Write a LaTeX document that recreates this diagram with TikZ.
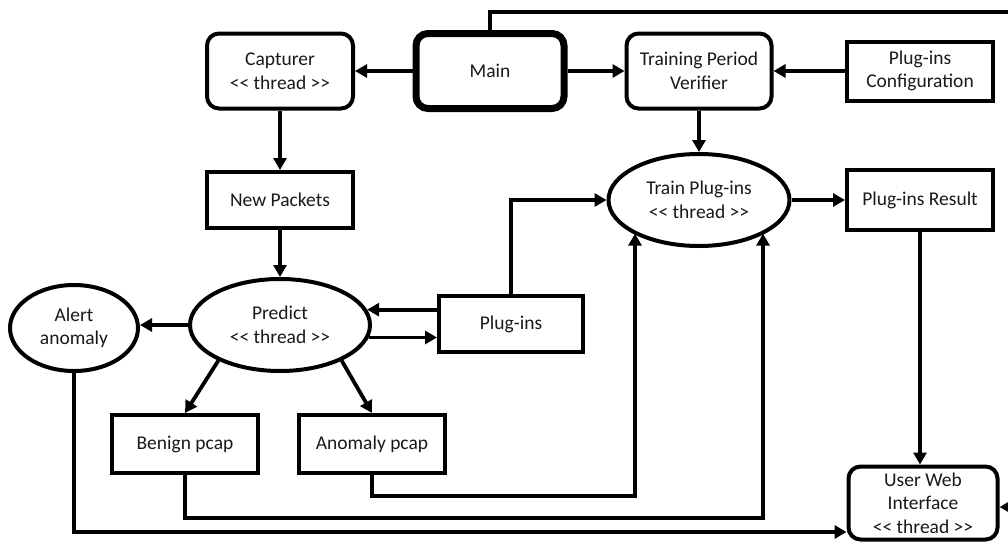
\documentclass[tikz,border=0pt]{standalone}
\usepackage{fontspec}
\setmainfont{Carlito}
\usetikzlibrary{arrows.meta,shapes.geometric}
\begin{document}
\begin{tikzpicture}[x=1pt,y=-1pt,
  every node/.style={font=\fontsize{19.5}{23.5}\selectfont, align=center, inner sep=0pt, text=black!90},
  sqbox/.style={draw, rectangle, line width=4pt},
  rbox/.style={draw, rectangle, rounded corners=12pt, line width=4pt},
  mainbox/.style={draw, rectangle, rounded corners=12pt, line width=7pt},
  oval/.style={draw, ellipse, line width=4pt},
  arr/.style={line width=3.8pt, -{Triangle[length=12pt,width=13pt]}},
  ln/.style={line width=3.8pt}]
\useasboundingbox (0,0) rectangle (1008,546);
\clip (0,0) rectangle (1008,546);
\fill[white] (0,0) rectangle (1008,546);
% nodes
\node[rbox, minimum width=146pt, minimum height=75pt] (cap) at (280,71) {Capturer\\<{}< thread >{}>};
\node[mainbox, minimum width=148pt, minimum height=75pt] (main) at (490,71) {Main};
\node[rbox, minimum width=145pt, minimum height=75pt] (tpv) at (699,71) {Training Period\\Verifier};
\node[sqbox, minimum width=146pt, minimum height=59pt] (pconf) at (920,71) {Plug-ins\\Configuration};
\node[sqbox, minimum width=146pt, minimum height=56pt] (np) at (280,200) {New Packets};
\node[oval, minimum width=181pt, minimum height=92pt] (train) at (699,200) {Train Plug-ins\\<{}< thread >{}>};
\node[sqbox, minimum width=146pt, minimum height=60pt] (pres) at (920,200) {Plug-ins Result};
\node[oval, minimum width=128pt, minimum height=86pt] (alert) at (74,328) {Alert\\anomaly};
\node[oval, minimum width=180pt, minimum height=92pt] (pred) at (280,325) {Predict\\<{}< thread >{}>};
\node[sqbox, minimum width=144pt, minimum height=56pt] (plug) at (511,324) {Plug-ins};
\node[sqbox, minimum width=146pt, minimum height=58pt] (benign) at (185,444) {Benign pcap};
\node[sqbox, minimum width=146pt, minimum height=58pt] (anom) at (372,444) {Anomaly pcap};
\node[rbox, minimum width=149pt, minimum height=73pt] (uwi) at (923,503) {User Web\\Interface\\<{}< thread >{}>};
% helper coordinates
\coordinate (topl) at (490,12);
\coordinate (topr) at (1030,12);
\coordinate (rdown) at (1030,507);
\coordinate (abend) at (635,496);
\coordinate (bbend) at (763,518);
\coordinate (albend) at (75,532);
% connectors
\draw[arr] (main.west) -- (cap.east);
\draw[arr] (main.east) -- (tpv.west);
\draw[arr] (pconf.west) -- (tpv.east);
\draw[arr] (tpv.south) -- (train.north);
\draw[arr] (cap.south) -- (np.north);
\draw[arr] (np.south) -- (pred.north);
\draw[arr] (pred.west) -- (pred.west -| alert.east);
\draw[arr] (plug.west |- pred.10) -- (pred.10);
\draw[arr] (pred.-8) -- (plug.west |- pred.-8);
\draw[arr] (plug.north) |- (train.west);
\draw[arr] (train.east) -- (pres.west);
\draw[arr] (pres.south) -- (pres.south |- uwi.north);
\draw[arr] (pred.210) -- (benign.north);
\draw[arr] (pred.330) -- (anom.north);
\draw[arr] (anom.south) |- (abend) -- (abend |- train.207);
\draw[arr] (benign.south) |- (bbend) -- (bbend |- train.333);
\draw[arr] (alert.south) |- (albend -| uwi.west);
\draw[arr] (main.north) -- (topl) -- (topr) -- (rdown) -- (rdown -| uwi.east);
\end{tikzpicture}
\end{document}
